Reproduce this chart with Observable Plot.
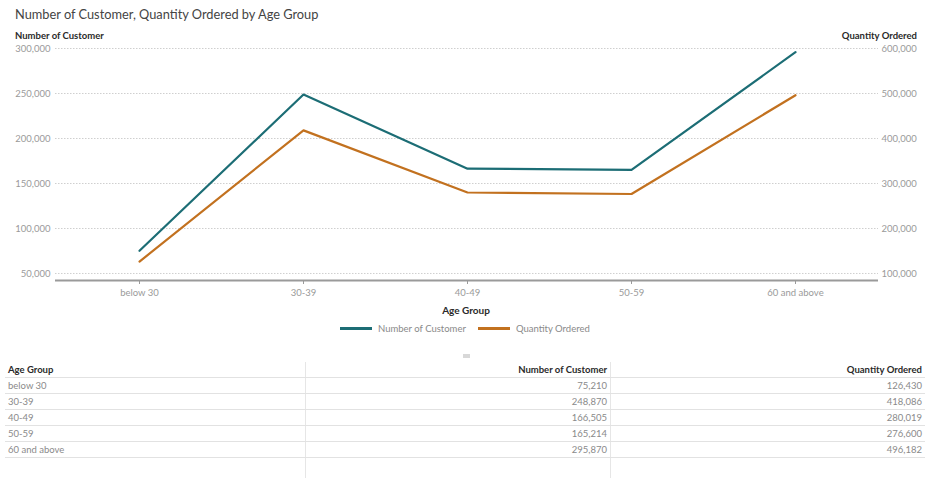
<!DOCTYPE html>
<html>
<head>
<meta charset="utf-8">
<script src="https://cdn.jsdelivr.net/npm/d3@7"></script>
<script src="https://cdn.jsdelivr.net/npm/@observablehq/plot@0.6"></script>
<style>
  body { margin: 0; width: 925px; height: 478px; position: relative; overflow: hidden; background: #fff; font-family: Lato, "Open Sans", sans-serif; }
  #title { position: absolute; left: 15px; top: 6px; font-size: 12.8px; color: #444; }
  .axtitle { position: absolute; top: 30px; font-size: 9.5px; font-weight: bold; color: #2a2a2a; }
  #chart { position: absolute; left: 0; top: 0; }
  #xlabel { position: absolute; top: 304px; left: 0; width: 932px; text-align: center; font-size: 10px; font-weight: bold; color: #2a2a2a; }
  #legend { position: absolute; top: 323px; left: 340px; font-size: 9.5px; color: #8a8a8a; display: flex; align-items: center; }
  #legend .sw { display: inline-block; width: 32px; height: 2.5px; margin-right: 6px; }
  #legend .item { display: flex; align-items: center; margin-right: 12px; }
  #handle { position: absolute; left: 463px; top: 354px; width: 7px; height: 4px; background: #d8d8d8; }
  #tbl { position: absolute; left: 5px; top: 362px; width: 920px; border-collapse: collapse; font-size: 9.5px; color: #8a8a8a; }
  #tbl td, #tbl th { height: 15px; padding: 0 3px; border-bottom: 1px solid #e2e2e2; line-height: 15px; }
  #tbl th { color: #2a2a2a; font-weight: bold; text-align: left; }
  #tbl .num { text-align: right; }
  .vline { position: absolute; top: 362px; height: 116px; width: 1px; background: #e6e6e6; }
</style>
</head>
<body>
<div id="title">Number of Customer, Quantity Ordered by Age Group</div>
<div class="axtitle" style="left:15px">Number of Customer</div>
<div class="axtitle" style="right:8px">Quantity Ordered</div>
<div id="chart"></div>
<div id="xlabel">Age Group</div>
<div id="legend"></div>
<div id="handle"></div>
<div class="vline" style="left:305px"></div>
<div class="vline" style="left:610px"></div>
<table id="tbl"></table>
<script>
const ageGroups = ["below 30", "30-39", "40-49", "50-59", "60 and above"];
const customers = [75210, 248870, 166505, 165214, 295870];
const quantity = [126430, 418086, 280019, 276600, 496182];
const leftTicks = [50000, 100000, 150000, 200000, 250000, 300000];
const rightTicks = [100000, 200000, 300000, 400000, 500000, 600000];
const seriesNames = ["Number of Customer", "Quantity Ordered"];
const colors = ["#1c6d75", "#c2711f"];

// right axis is exactly twice the left axis
const ratio = 2;
const fmt = d3.format(",");

const rows = [];
ageGroups.forEach((g, i) => {
  rows.push({ age: g, series: seriesNames[0], y: customers[i] });
  rows.push({ age: g, series: seriesNames[1], y: quantity[i] / ratio });
});

const plot = Plot.plot({
  width: 925,
  height: 300,
  marginTop: 48,
  marginBottom: 20,
  marginLeft: 55,
  marginRight: 47,
  style: { fontFamily: "Lato, 'Open Sans', sans-serif", fontSize: "9.5px", color: "#999" },
  x: { type: "point", domain: ageGroups, padding: 0.5, label: null },
  y: { domain: [42200, 300000], label: null },
  color: { domain: seriesNames, range: colors },
  marks: [
    Plot.gridY(leftTicks, { stroke: "#cfcfcf", strokeOpacity: 1, strokeDasharray: "1.5,1.5" }),
    Plot.axisY(leftTicks, { anchor: "left", tickSize: 0, tickPadding: 5, tickFormat: fmt, fill: "#9a9a9a" }),
    Plot.axisY(rightTicks.map(d => d / ratio), { anchor: "right", tickSize: 0, tickPadding: 3, tickFormat: d => fmt(d * ratio), fill: "#9a9a9a" }),
    Plot.ruleY([42200], { stroke: "#9a9a9a", strokeWidth: 2 }),
    Plot.axisX({ tickSize: 4, tickPadding: 5, stroke: "#9a9a9a", fill: "#9a9a9a" }),
    Plot.line(rows, { x: "age", y: "y", z: "series", stroke: "series", strokeWidth: 2.2 })
  ]
});
document.getElementById("chart").appendChild(plot);

const legend = document.getElementById("legend");
seriesNames.forEach((n, i) => {
  const it = document.createElement("span");
  it.className = "item";
  it.innerHTML = `<span class="sw" style="background:${colors[i]}"></span><span>${n}</span>`;
  legend.appendChild(it);
});

const tbl = document.getElementById("tbl");
let html = `<tr><th style="width:294px">Age Group</th><th class="num" style="width:299px">${seriesNames[0]}</th><th class="num">${seriesNames[1]}</th></tr>`;
ageGroups.forEach((g, i) => {
  html += `<tr><td>${g}</td><td class="num">${fmt(customers[i])}</td><td class="num">${fmt(quantity[i])}</td></tr>`;
});
tbl.innerHTML = html;
</script>
</body>
</html>
